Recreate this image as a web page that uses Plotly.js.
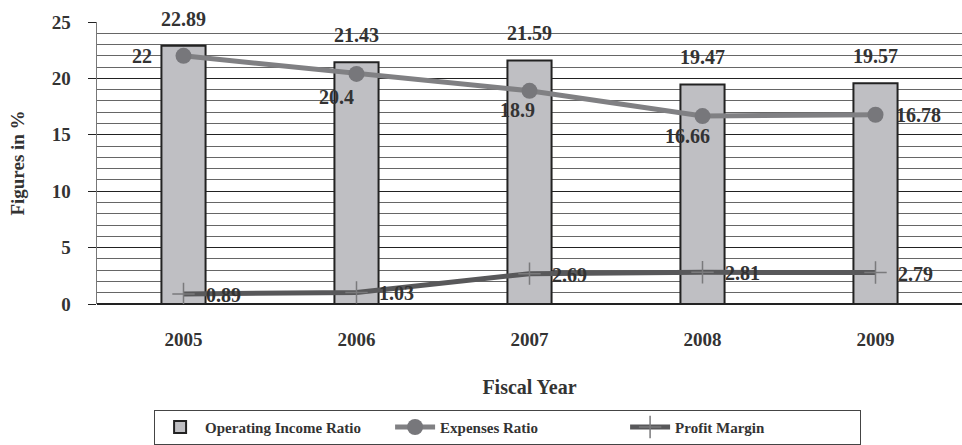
<!DOCTYPE html>
<html>
<head>
<meta charset="utf-8">
<script src="https://cdn.plot.ly/plotly-3.0.1.min.js"></script>
<style>html,body{margin:0;padding:0;background:#fff;}#chart{width:962px;height:445px;}</style>
</head>
<body>
<div id="chart"></div>
<script>
// Fiscal years and ratios (%)
const years = ['2005', '2006', '2007', '2008', '2009'];
const operatingIncomeRatio = [22.89, 21.43, 21.59, 19.47, 19.57];
const expensesRatio = [22, 20.4, 18.9, 16.66, 16.78];
const profitMargin = [0.89, 1.03, 2.69, 2.81, 2.79];
const yTicks = [0, 5, 10, 15, 20, 25];

const FONT = 'Liberation Serif, DejaVu Serif, serif';
const labelFont = {family: FONT, size: 20, color: '#333', weight: 'bold'};

const traces = [
  {
    type: 'bar', name: 'Operating Income Ratio', x: years, y: operatingIncomeRatio,
    marker: {color: '#bfbfc3', line: {color: '#222', width: 2}}
  },
  {
    type: 'scatter', mode: 'lines+markers', name: 'Expenses Ratio', x: years, y: expensesRatio,
    line: {color: '#808083', width: 5},
    marker: {symbol: 'circle', size: 16, color: '#77777b'}
  },
  {
    type: 'scatter', mode: 'lines+markers', name: 'Profit Margin', x: years, y: profitMargin,
    line: {color: '#58585a', width: 5},
    marker: {symbol: 'cross-thin', size: 16, line: {color: '#7a7a7c', width: 1.5}}
  }
];

// value labels (category index used for x on the category axis)
const annotations = [];
operatingIncomeRatio.forEach((v, i) => annotations.push({
  x: i, y: v, text: String(v), showarrow: false, yshift: 27,
  font: labelFont, xanchor: 'center', yanchor: 'middle'
}));
const expShift = [[-30, 0, 'right'], [-20, -23, 'center'], [-12, -19, 'center'], [-15, -20, 'center'], [18, 0, 'left']];
expensesRatio.forEach((v, i) => annotations.push({
  x: i, y: v, text: String(v), showarrow: false,
  xshift: expShift[i][0], yshift: expShift[i][1], xanchor: expShift[i][2], yanchor: 'middle',
  font: labelFont
}));
profitMargin.forEach((v, i) => annotations.push({
  x: i, y: v, text: String(v), showarrow: false,
  xshift: 20, yshift: -1, xanchor: 'left', yanchor: 'middle', font: labelFont
}));

const layout = {
  width: 962, height: 445,
  margin: {l: 97, r: 0, t: 22, b: 139},
  paper_bgcolor: '#fff', plot_bgcolor: '#fff',
  font: {family: FONT, color: '#333'},
  bargap: 0.745,
  showlegend: true,
  legend: {
    orientation: 'h', x: 0.066, xanchor: 'left', y: -0.375, yanchor: 'top',
    bordercolor: '#444', borderwidth: 1,
    font: {family: FONT, size: 15, color: '#333', weight: 'bold'},
    itemwidth: 40, entrywidth: 180, tracegroupgap: 0
  },
  xaxis: {
    type: 'category', range: [-0.5, 4.5],
    showgrid: false, zeroline: false, showline: false, ticks: '',
    tickfont: {family: FONT, size: 19, color: '#333', weight: 'bold'},
    ticklabelstandoff: 22,
    title: {text: 'Fiscal Year', font: {family: FONT, size: 20, color: '#333', weight: 'bold'}, standoff: 30}
  },
  yaxis: {
    range: [0, 25], tickvals: yTicks, ticktext: yTicks.map(String),
    showgrid: true, gridcolor: '#222', gridwidth: 1,
    minor: {dtick: 1, showgrid: true, gridcolor: '#666', gridwidth: 1, ticks: ''},
    showline: true, linecolor: '#777', linewidth: 1.5,
    ticks: 'outside', ticklen: 8, tickcolor: '#222',
    zeroline: true, zerolinecolor: '#222', zerolinewidth: 1.5,
    tickfont: {family: FONT, size: 19, color: '#333', weight: 'bold'},
    ticklabelstandoff: 13,
    title: {text: 'Figures in %', font: {family: FONT, size: 19, color: '#333', weight: 'bold'}, standoff: 22}
  },
  annotations: annotations
};

Plotly.newPlot('chart', traces, layout, {displayModeBar: false, staticPlot: true});
</script>
</body>
</html>
